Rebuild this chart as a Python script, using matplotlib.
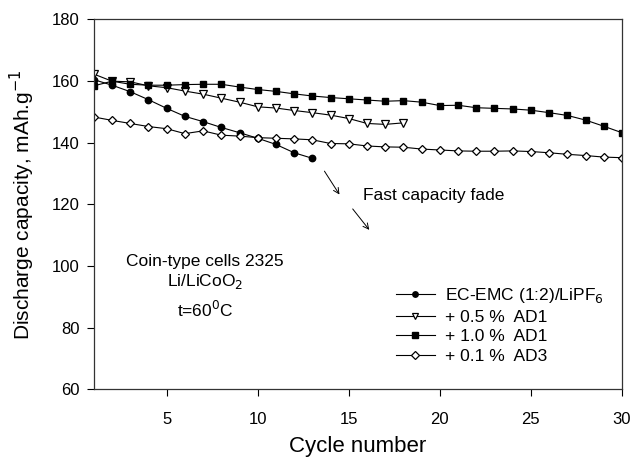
import numpy as np
import matplotlib.pyplot as plt

plt.rcParams['font.family'] = ['Liberation Sans', 'DejaVu Sans']

# Data
cycles_base = list(range(1, 14))
cap_base = [160.4, 158.6, 156.5, 153.9, 151.1, 148.5, 146.8, 144.9, 143.2, 141.4, 139.4, 136.7, 134.9]

cycles_ad1_05 = list(range(1, 19))
cap_ad1_05 = [162.2, 159.9, 159.7, 158.4, 157.8, 156.7, 155.7, 154.4, 153.1, 151.6,
              151.2, 150.4, 149.7, 148.9, 147.8, 146.2, 145.9, 146.4]

cycles_ad1_10 = list(range(1, 31))
cap_ad1_10 = [158.4, 159.9, 158.9, 158.6, 158.6, 158.8, 158.9, 158.9, 158.0, 157.2,
              156.6, 155.8, 155.1, 154.6, 154.2, 153.8, 153.4, 153.6, 153.1, 152.0,
              152.1, 151.3, 151.1, 150.9, 150.5, 149.7, 148.8, 147.3, 145.3, 143.2]

cycles_ad3 = list(range(1, 31))
cap_ad3 = [148.3, 147.2, 146.2, 145.2, 144.5, 142.9, 143.8, 142.4, 142.1, 141.6,
           141.4, 141.2, 140.9, 139.7, 139.6, 138.9, 138.6, 138.5, 137.9, 137.6,
           137.3, 137.2, 137.2, 137.3, 137.1, 136.7, 136.2, 135.8, 135.3, 135.1]

fig = plt.figure(figsize=(6.34, 4.57), dpi=100)
ax = fig.add_axes([0.148, 0.148, 0.833, 0.810])

ax.plot(cycles_base, cap_base, color='black', lw=0.8, marker='o', ms=4.6,
        mfc='black', mec='black', label='EC-EMC (1:2)/LiPF$_6$')
ax.plot(cycles_ad1_05, cap_ad1_05, color='black', lw=0.8, marker='v', ms=5.6,
        mfc='white', mec='black', mew=0.9, label='+ 0.5 %  AD1')
ax.plot(cycles_ad1_10, cap_ad1_10, color='black', lw=0.8, marker='s', ms=4.8,
        mfc='black', mec='black', label='+ 1.0 %  AD1')
ax.plot(cycles_ad3, cap_ad3, color='black', lw=0.8, marker='D', ms=4.4,
        mfc='white', mec='black', mew=0.9, label='+ 0.1 %  AD3')

ax.set_xlim(1, 30)
ax.set_ylim(60, 180)
ax.set_xticks([5, 10, 15, 20, 25, 30])
ax.set_yticks([60, 80, 100, 120, 140, 160, 180])
ax.tick_params(direction='out', length=5, width=0.8, labelsize=12, colors='black', pad=5)
ax.tick_params(axis='x', pad=11)
for s in ax.spines.values():
    s.set_linewidth(0.9)
    s.set_color('#333333')

ax.set_xlabel('Cycle number', fontsize=16, labelpad=7)
ax.set_ylabel('Discharge capacity, mAh.g$^{-1}$', fontsize=15, labelpad=11)

ax.text(7.1, 101.4, 'Coin-type cells 2325', ha='center', va='center', fontsize=12.5)
ax.text(7.1, 95.0, 'Li/LiCoO$_2$', ha='center', va='center', fontsize=12.5)
ax.text(7.1, 85.8, 't=60$^0$C', ha='center', va='center', fontsize=12.5)

ax.text(15.8, 123.0, 'Fast capacity fade', ha='left', va='center', fontsize=12.5)
ax.annotate('', xy=(14.57, 122.4), xytext=(13.58, 131.5),
            arrowprops=dict(arrowstyle='->', color='black', lw=0.7))
ax.annotate('', xy=(16.22, 111.0), xytext=(15.12, 119.2),
            arrowprops=dict(arrowstyle='->', color='black', lw=0.7))

leg = ax.legend(loc='center left', bbox_to_anchor=(0.542, 0.174), frameon=False,
                fontsize=12.5, handlelength=2.25, handletextpad=0.6,
                labelspacing=0.25, numpoints=1, markerscale=0.85)

fig.savefig('out.png', dpi=100)
